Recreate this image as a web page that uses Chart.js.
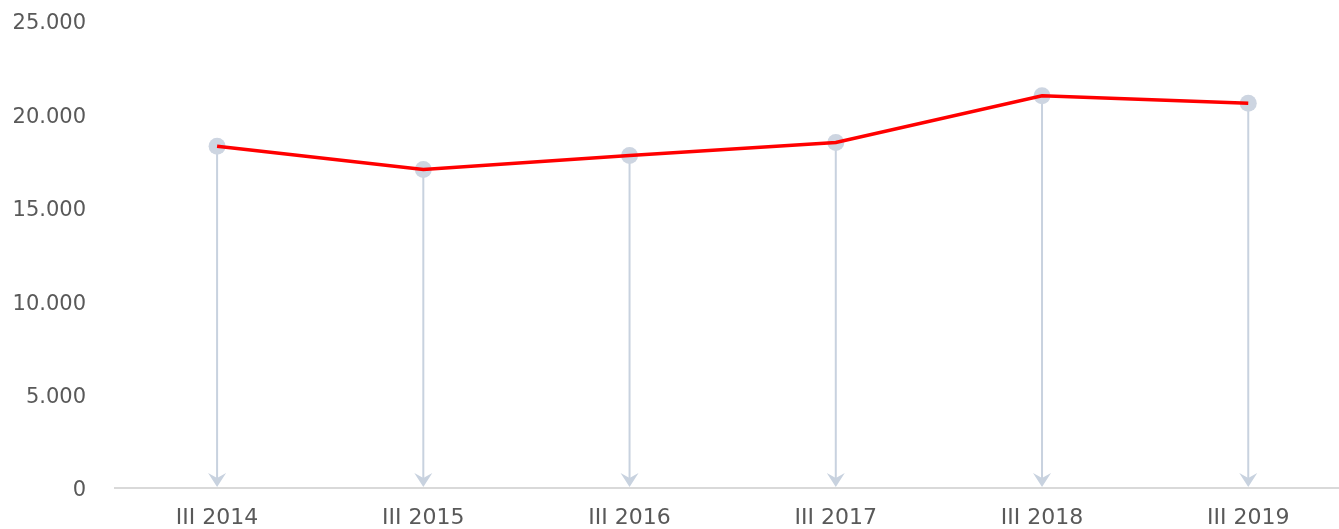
<!DOCTYPE html>
<html>
<head>
<meta charset="utf-8">
<script src="https://cdn.jsdelivr.net/npm/chart.js@4.4.1/dist/chart.umd.min.js"></script>
<style>
    html, body { margin: 0; padding: 0; background: #fff; }
    #wrap { width: 1339px; height: 529px; position: relative; }
</style>
</head>
<body>
<div id="wrap"><canvas id="c"></canvas></div>
<script>
const labels = ['III 2014', 'III 2015', 'III 2016', 'III 2017', 'III 2018', 'III 2019'];
const values = [18300, 17050, 17800, 18500, 21000, 20600];
const yTicks = [0, 5000, 10000, 15000, 20000, 25000];

const DROP = '#c8d2df';
const TEXT = '#595959';

function fmt(v) {
    return String(v).replace(/\B(?=(\d{3})+(?!\d))/g, '.');
}

const pts = values.map((v, i) => ({ x: i, y: v }));

// vertical drop lines with arrowheads, from each point down to zero
const dropLines = {
    id: 'dropLines',
    beforeDatasetsDraw(chart) {
        const { ctx, scales: { x, y } } = chart;
        const y0 = y.getPixelForValue(0) - 1;
        ctx.save();
        ctx.strokeStyle = DROP;
        ctx.fillStyle = DROP;
        ctx.lineWidth = 2;
        pts.forEach((p) => {
            const px = x.getPixelForValue(p.x);
            const py = y.getPixelForValue(p.y);
            ctx.beginPath();
            ctx.moveTo(px, py);
            ctx.lineTo(px, y0 - 8);
            ctx.stroke();
            ctx.beginPath();
            ctx.moveTo(px, y0);
            ctx.lineTo(px - 9, y0 - 14);
            ctx.lineTo(px, y0 - 9);
            ctx.lineTo(px + 9, y0 - 14);
            ctx.closePath();
            ctx.fill();
        });
        ctx.restore();
    },
};

new Chart(document.getElementById('c'), {
    type: 'scatter',
    data: {
        datasets: [
            { data: pts, showLine: true, borderColor: '#ff0000', borderWidth: 3.5, pointRadius: 0, order: 1 },
            { data: pts, pointRadius: 8.5, pointBackgroundColor: '#cdd5e1', pointBorderWidth: 0, order: 2 },
        ],
    },
    options: {
        responsive: true,
        maintainAspectRatio: false,
        animation: false,
        layout: { autoPadding: false, padding: { top: 21, right: 0, bottom: 0, left: 0 } },
        plugins: { legend: { display: false }, tooltip: { enabled: false } },
        scales: {
            x: {
                type: 'linear', min: -0.495, max: 5.44,
                grid: { display: false, drawTicks: false },
                border: { display: true, color: '#d9d9d9', width: 2 },
                afterBuildTicks: (s) => { s.ticks = labels.map((_, i) => ({ value: i })); },
                afterFit: (s) => { s.height = 41; s.paddingLeft = 0; s.paddingRight = 0; },
                ticks: { font: { family: 'DejaVu Sans', size: 22 }, color: TEXT, padding: 17, maxRotation: 0, callback: (v) => labels[v] },
            },
            y: {
                min: 0, max: 25000,
                grid: { display: false, drawTicks: false },
                border: { display: false },
                afterBuildTicks: (s) => { s.ticks = yTicks.map((v) => ({ value: v })); },
                afterFit: (s) => { s.width = 115; s.paddingTop = 0; s.paddingBottom = 0; },
                ticks: { font: { family: 'DejaVu Sans', size: 21 }, color: TEXT, padding: 29, labelOffset: 3, callback: (v) => fmt(v) },
            },
        },
    },
    plugins: [dropLines],
});
</script>
</body>
</html>
